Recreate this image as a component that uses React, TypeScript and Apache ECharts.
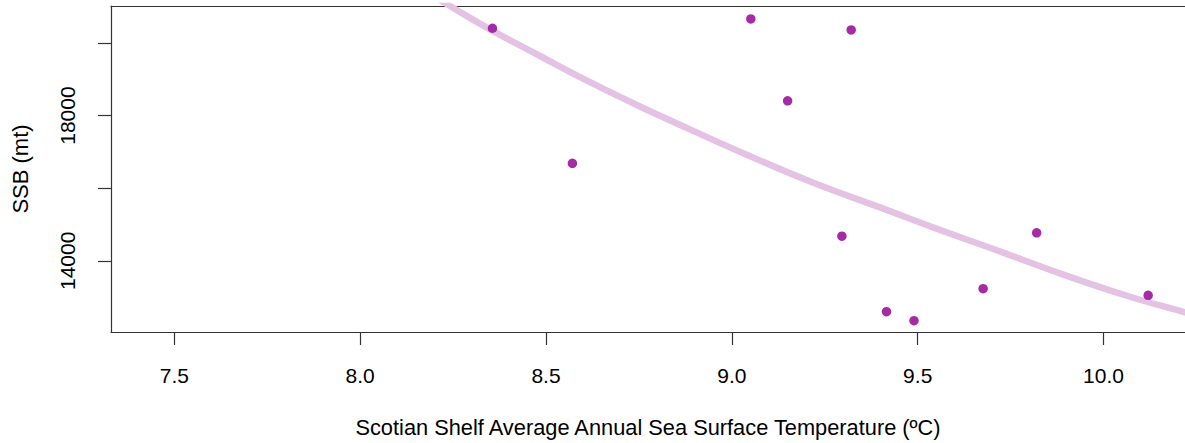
import React, { useEffect, useRef } from "react";
import * as echarts from "echarts";

// Observed data: Scotian Shelf SST (ºC) vs SSB (mt)
const sstValues = [8.356, 8.571, 9.051, 9.15, 9.296, 9.321, 9.416, 9.49, 9.676, 9.82, 10.12];
const ssbValues = [20404, 16683, 20660, 18406, 14677, 20357, 12599, 12352, 13231, 14770, 13048];

// Fitted curve
const curveX = [8.2, 8.2417, 8.3555, 8.4839, 8.6185, 8.753, 8.8828, 9.04, 9.2191, 9.3986, 9.5466, 9.7126, 9.8917, 10.0712, 10.2191, 10.25];
const curveY = [21276, 21017, 20338, 19640, 18920, 18250, 17640, 16920, 16150, 15470, 14900, 14290, 13620, 13010, 12580, 12490];

const xTicks = [7.5, 8.0, 8.5, 9.0, 9.5, 10.0];
const yTicks = [14000, 16000, 18000, 20000];
const yLabels = [14000, 18000];

const X_MIN = 7.3297;
const X_MAX = 10.2191;
const Y_MIN = 12039;
const Y_MAX = 21017;

const FONT = "'Liberation Sans', Arial, Helvetica, sans-serif";
const AXIS_COLOR = "#333333";

export default function App() {
  const ref = useRef<HTMLDivElement>(null);

  useEffect(() => {
    const chart = echarts.init(ref.current!, null, { renderer: "svg" });
    chart.setOption({
      animation: false,
      backgroundColor: "#ffffff",
      textStyle: { fontFamily: FONT },
      grid: { left: 111, top: 6, right: 0, bottom: 110, containLabel: false },
      xAxis: [
        {
          type: "value",
          position: "bottom",
          min: X_MIN,
          max: X_MAX,
          name: "Scotian Shelf Average Annual Sea Surface Temperature (ºC)",
          nameLocation: "middle",
          nameGap: 84,
          nameTextStyle: { fontSize: 21.8, color: "#000", fontFamily: FONT },
          axisLine: { show: true, onZero: false, lineStyle: { color: AXIS_COLOR, width: 1.2 } },
          axisTick: {
            show: true,
            length: 13,
            customValues: xTicks,
            lineStyle: { color: AXIS_COLOR, width: 1.2 },
          },
          axisLabel: {
            show: true,
            customValues: xTicks,
            margin: 33,
            fontSize: 21,
            color: "#000",
            fontFamily: FONT,
            formatter: (v: number) => v.toFixed(1),
          },
          splitLine: { show: false },
        },
        {
          type: "value",
          position: "top",
          min: X_MIN,
          max: X_MAX,
          axisLine: { show: true, onZero: false, lineStyle: { color: AXIS_COLOR, width: 1.2 } },
          axisTick: { show: false },
          axisLabel: { show: false },
          splitLine: { show: false },
        },
      ],
      yAxis: {
        type: "value",
        min: Y_MIN,
        max: Y_MAX,
        name: "SSB (mt)",
        nameLocation: "middle",
        nameGap: 80,
        nameTextStyle: { fontSize: 22, color: "#000", fontFamily: FONT },
        axisLine: { show: true, onZero: false, lineStyle: { color: AXIS_COLOR, width: 1.2 } },
        axisTick: {
          show: true,
          length: 13,
          customValues: yTicks,
          lineStyle: { color: AXIS_COLOR, width: 1.2 },
        },
        axisLabel: {
          show: true,
          customValues: yLabels,
          rotate: 90,
          margin: 33,
          fontSize: 21,
          color: "#000",
          fontFamily: FONT,
          formatter: (v: number) => String(v),
        },
        splitLine: { show: false },
      },
      series: [
        {
          type: "line",
          xAxisIndex: 0,
          data: curveX.map((x, i) => [x, curveY[i]]),
          smooth: 0.4,
          showSymbol: false,
          symbol: "none",
          clip: true,
          lineStyle: { color: "#E4C2E4", width: 6.5 },
          z: 2,
        },
        {
          type: "scatter",
          xAxisIndex: 0,
          data: sstValues.map((x, i) => [x, ssbValues[i]]),
          symbol: "circle",
          symbolSize: 9.5,
          itemStyle: { color: "#A62AA6", opacity: 1 },
          z: 3,
        },
      ],
    });
    return () => chart.dispose();
  }, []);

  return (
    <div
      ref={ref}
      style={{ position: "fixed", left: 0, top: 0, width: 1185, height: 443, background: "#fff" }}
    />
  );
}
